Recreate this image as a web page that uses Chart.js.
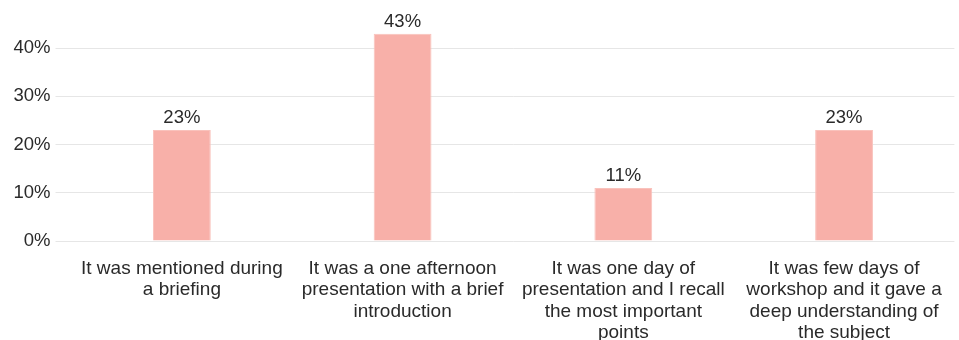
<!DOCTYPE html>
<html>
<head>
<meta charset="utf-8">
<script src="https://cdn.jsdelivr.net/npm/chart.js@4/dist/chart.umd.min.js"></script>
<style>
    html, body { margin: 0; padding: 0; background: #fff; }
    #wrap { width: 959px; height: 340px; }
</style>
</head>
<body>
<div id="wrap"><canvas id="trainingChart" width="959" height="340"></canvas></div>
<script>
const categories = [
    ['It was mentioned during', 'a briefing'],
    ['It was a one afternoon', 'presentation with a brief', 'introduction'],
    ['It was one day of', 'presentation and I recall', 'the most important', 'points'],
    ['It was few days of', 'workshop and it gave a', 'deep understanding of', 'the subject']
];
const shares = [23, 43, 11, 23];
const yTicks = [0, 10, 20, 30, 40];

const FONT = '"Helvetica Neue", Helvetica, Arial, "Liberation Sans", sans-serif';
const TEXT_COLOR = '#2a2a2a';
const BAR_COLOR = '#f8b0a9';

// value labels above each bar
const valueLabels = {
    id: 'valueLabels',
    afterDatasetsDraw(chart) {
        const { ctx } = chart;
        const meta = chart.getDatasetMeta(0);
        ctx.save();
        ctx.font = `18.5px ${FONT}`;
        ctx.fillStyle = TEXT_COLOR;
        ctx.textAlign = 'center';
        ctx.textBaseline = 'alphabetic';
        meta.data.forEach((bar, i) => {
            ctx.fillText(`${shares[i]}%`, bar.x, bar.y - 7);
        });
        ctx.restore();
    }
};

const ctx = document.getElementById('trainingChart').getContext('2d');
new Chart(ctx, {
    type: 'bar',
    data: {
        labels: categories,
        datasets: [{
            data: shares,
            backgroundColor: BAR_COLOR,
            borderColor: '#f9c2bc',
            borderWidth: 1,
            categoryPercentage: 1,
            barPercentage: 0.262
        }]
    },
    options: {
        responsive: false,
        animation: false,
        layout: { padding: { top: 24, right: 2, left: 0, bottom: 0 } },
        plugins: {
            legend: { display: false },
            tooltip: { enabled: false }
        },
        scales: {
            x: {
                grid: { display: false, drawTicks: false },
                border: { display: false },
                ticks: {
                    color: TEXT_COLOR,
                    padding: 17,
                    maxRotation: 0,
                    autoSkip: false,
                    font: { family: FONT, size: 19, lineHeight: 1.13 }
                },
                afterFit(scale) { scale.height = 99; }
            },
            y: {
                min: 0,
                max: 45,
                afterBuildTicks(scale) {
                    scale.ticks = yTicks.map(v => ({ value: v }));
                },
                grid: { color: '#e6e6e6', lineWidth: 1, tickLength: 16, tickColor: '#e6e6e6' },
                border: { display: false },
                ticks: {
                    color: TEXT_COLOR,
                    padding: 5,
                    font: { family: FONT, size: 18.5 },
                    callback: v => `${v}%`
                },
                afterFit(scale) { scale.width = 71.5; }
            }
        }
    },
    plugins: [valueLabels]
});
</script>
</body>
</html>
